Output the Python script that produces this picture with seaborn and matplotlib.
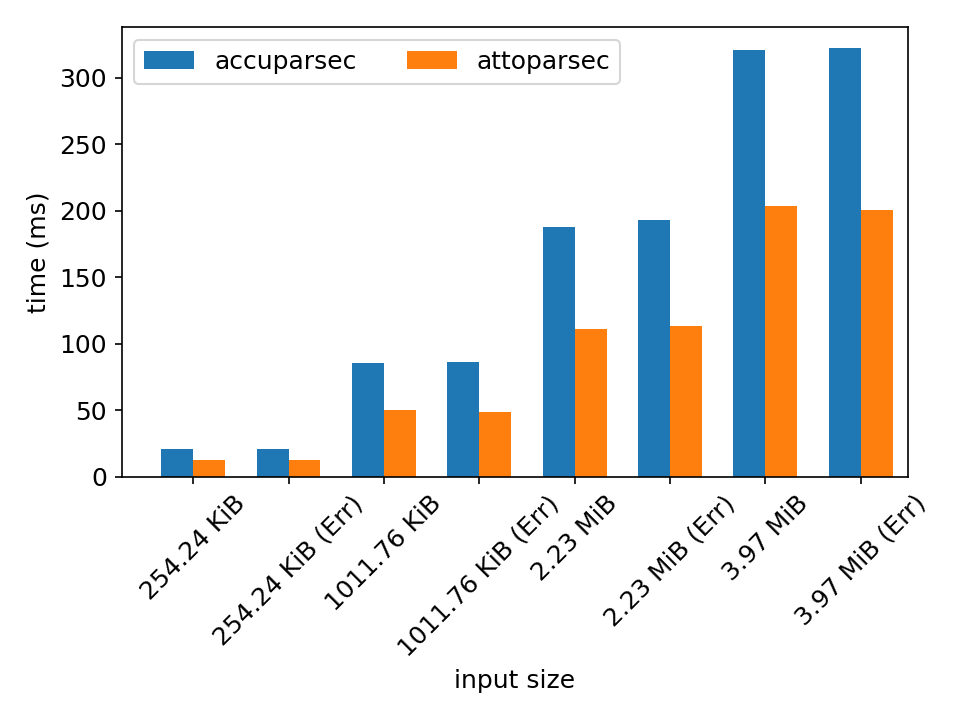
import pandas as pd
import matplotlib
matplotlib.use("Agg")
import matplotlib.pyplot as plt
import seaborn as sns

sizes = ["254.24 KiB", "254.24 KiB (Err)", "1011.76 KiB", "1011.76 KiB (Err)",
         "2.23 MiB", "2.23 MiB (Err)", "3.97 MiB", "3.97 MiB (Err)"]
accuparsec = [20.6, 20.5, 85.2, 85.8, 187.7, 192.9, 320.6, 321.9]
attoparsec = [12.3, 12.2, 50.3, 48.4, 111.0, 113.5, 203.2, 200.6]

df = pd.DataFrame({
    "input size": sizes * 2,
    "time (ms)": accuparsec + attoparsec,
    "parser": ["accuparsec"] * len(sizes) + ["attoparsec"] * len(sizes),
})

plt.rcParams["font.size"] = 12
fig, ax = plt.subplots(figsize=(6.4, 4.8), dpi=150)
sns.barplot(data=df, x="input size", y="time (ms)", hue="parser",
            palette=["#1f77b4", "#ff7f0e"], width=0.67, saturation=1, ax=ax)
ax.legend(loc="upper left", ncol=2, title=None)
ax.tick_params(axis="x", rotation=45)
ax.set_xlim(-0.75, 7.5)
ax.set_ylim(0, 338)
plt.tight_layout()
plt.savefig("out.png", dpi=150)
